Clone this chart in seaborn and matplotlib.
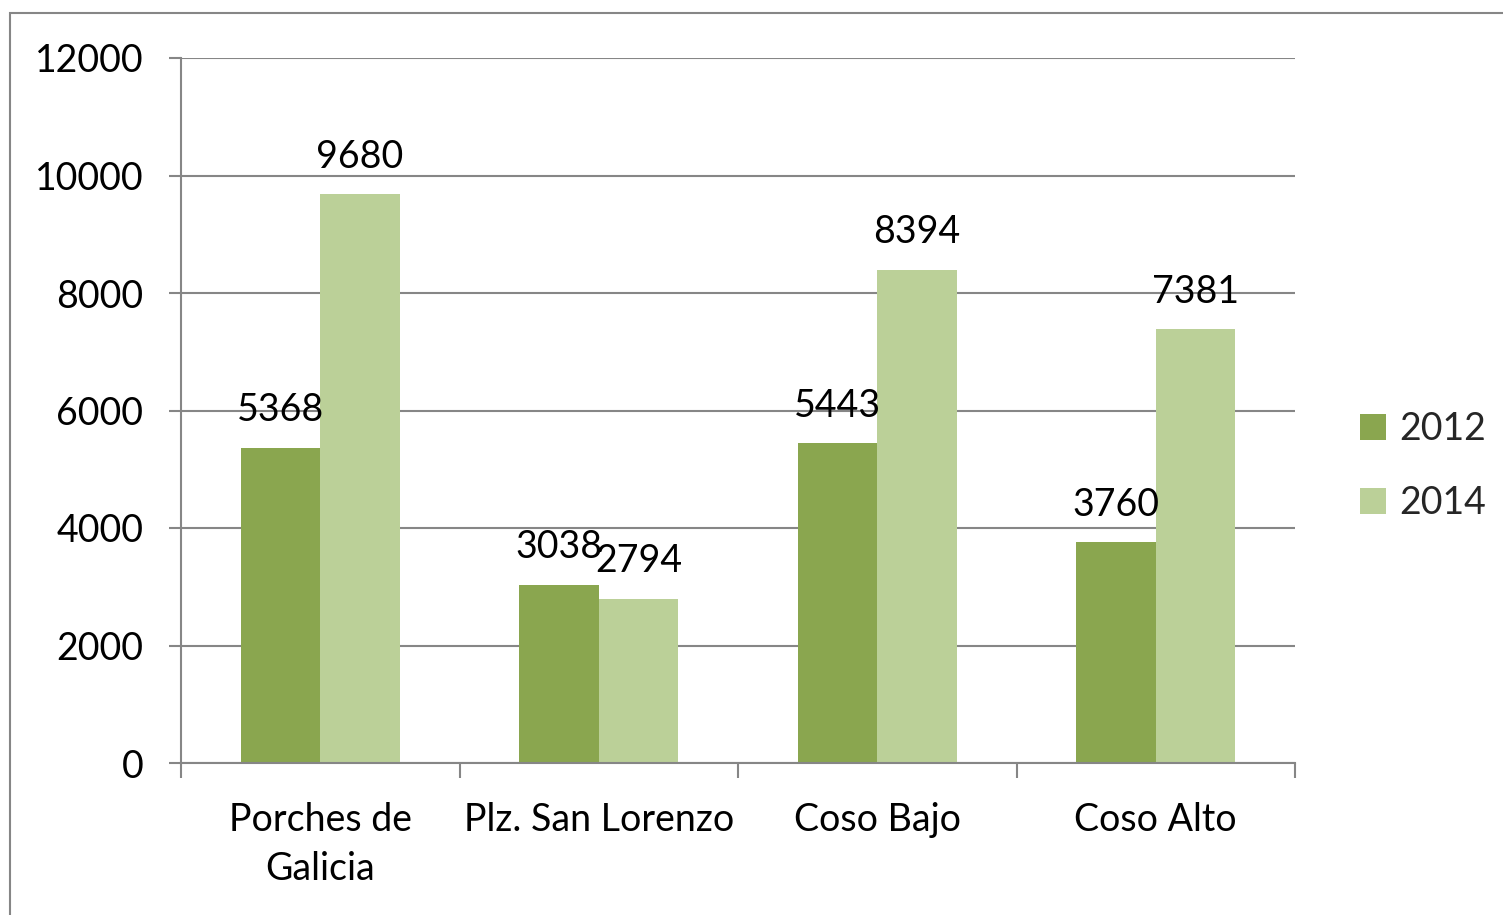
import matplotlib
matplotlib.use("Agg")
import matplotlib.pyplot as plt
from matplotlib.patches import Rectangle
import seaborn as sns
import pandas as pd

categories = ["Porches de\nGalicia", "Plz. San Lorenzo", "Coso Bajo", "Coso Alto"]
years = ["2012", "2014"]
values_2012 = [5368, 3038, 5443, 3760]
values_2014 = [9680, 2794, 8394, 7381]
y_ticks = [0, 2000, 4000, 6000, 8000, 10000, 12000]

colors = {"2012": "#8AA64F", "2014": "#BBD098"}
axis_grey = "#868686"

sns.set_theme(style="white")
plt.rcParams["font.family"] = ["Lato", "DejaVu Sans"]
FS = 27

df = pd.DataFrame({
    "zona": categories * 2,
    "year": [years[0]] * 4 + [years[1]] * 4,
    "total": values_2012 + values_2014,
})

fig = plt.figure(figsize=(15.03, 9.15), dpi=100)
ax = fig.add_axes([181 / 1503, (915 - 763) / 915, (1295 - 181) / 1503, (763 - 58) / 915])

sns.barplot(data=df, x="zona", y="total", hue="year", order=categories,
            hue_order=years, palette=colors, width=0.571, saturation=1,
            linewidth=0, ax=ax, legend=False)

for container in ax.containers:
    ax.bar_label(container, fmt="%d", padding=14, fontsize=FS, color="black")

ax.set_xlim(-0.5, len(categories) - 0.5)
ax.set_ylim(0, 12000)
ax.set_yticks(y_ticks)
ax.set_yticklabels([str(v) for v in y_ticks], fontsize=FS)
ax.yaxis.grid(True, color=axis_grey, linewidth=1.5)
ax.set_axisbelow(True)
ax.set_xlabel("")
ax.set_ylabel("")

ax.set_xticks(range(len(categories)))
ax.set_xticklabels(categories, fontsize=FS, linespacing=1.45)
ax.set_xticks([i - 0.5 for i in range(len(categories) + 1)], minor=True)
ax.tick_params(axis="x", which="major", bottom=True, length=0, pad=28, labelcolor="black")
ax.tick_params(axis="x", which="minor", bottom=True, length=11, width=1.5,
               color=axis_grey, direction="out")
ax.tick_params(axis="y", which="major", left=True, length=9, width=1.5,
               color=axis_grey, direction="out", pad=18, labelcolor="black")

for side in ["top", "right"]:
    ax.spines[side].set_visible(False)
for side in ["left", "bottom"]:
    ax.spines[side].set_color(axis_grey)
    ax.spines[side].set_linewidth(1.5)

handles = [Rectangle((0, 0), 1, 1, facecolor=colors[y], edgecolor="none") for y in years]
fig.legend(handles, years, loc="center left",
           bbox_to_anchor=(1360 / 1503, (915 - 466) / 915),
           frameon=False, fontsize=FS, handlelength=0.7, handleheight=0.7,
           handletextpad=0.35, labelspacing=1.02, borderpad=0, borderaxespad=0)

# outer chart-area border
fig.patches.append(Rectangle((9.5 / 1503, -0.5), 2.0, 0.5 + (915 - 12.5) / 915,
                             transform=fig.transFigure, fill=False,
                             edgecolor=axis_grey, linewidth=1.5))

fig.savefig("out.png", dpi=100)
